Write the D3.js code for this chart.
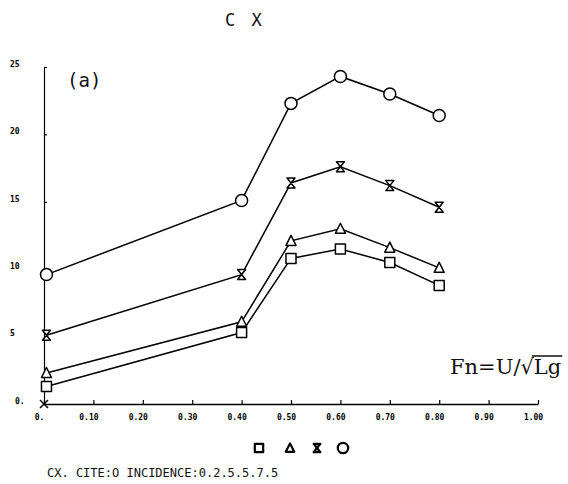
<!DOCTYPE html>
<html>
<head>
<meta charset="utf-8">
<script src="https://cdn.jsdelivr.net/npm/d3@7"></script>
<style>
  body{margin:0;background:#fff;}
  svg{display:block;}
</style>
</head>
<body>
<svg id="chart" width="568" height="484"></svg>
<script>
// Froude number points (x) and CX values per incidence
const fn = [0.005, 0.40, 0.50, 0.60, 0.70, 0.80];
const cxSquare = [1.3, 5.3, 10.8, 11.5, 10.5, 8.8];
const cxTriangle = [2.3, 6.1, 12.1, 13.0, 11.6, 10.1];
const cxHourglass = [5.1, 9.6, 16.4, 17.6, 16.2, 14.6];
const cxCircle = [9.6, 15.1, 22.3, 24.3, 23.0, 21.4];
const xTicks = [0, 0.1, 0.2, 0.3, 0.4, 0.5, 0.6, 0.7, 0.8, 0.9, 1.0];
const xTickLabels = ["0.", "0.10", "0.20", "0.30", "0.40", "0.50", "0.60", "0.70", "0.80", "0.90", "1.00"];
const yTicks = [0, 5, 10, 15, 20, 25];
const yTickLabels = ["0.", "5", "10", "15", "20", "25"];

const series = [
  {name: "square", values: cxSquare},
  {name: "triangle", values: cxTriangle},
  {name: "hourglass", values: cxHourglass},
  {name: "circle", values: cxCircle}
];

const svg = d3.select("#chart");
const xscale = d3.scaleLinear().domain([0, 1]).range([44, 538]);
const yscale = d3.scaleLinear().domain([0, 25]).range([404, 67]);

const mono = "'DejaVu Sans Mono', monospace";

// marker paths centred on 0,0
function marker(name, s) {
  if (name === "square") return `M${-s},${-s}H${s}V${s}H${-s}Z`;
  if (name === "triangle") return `M0,${-s*1.1}L${s},${s*0.9}H${-s}Z`;
  if (name === "hourglass") return `M${-s*0.8},${-s}H${s*0.8}L${-s*0.8},${s}H${s*0.8}Z`;
  return null;
}
function drawMarker(g, name, x, y, s, sw) {
  if (name === "circle") {
    g.append("circle").attr("cx", x).attr("cy", y).attr("r", s + 1)
      .attr("fill", "#fff").attr("stroke", "#000").attr("stroke-width", sw);
  } else {
    g.append("path").attr("d", marker(name, s))
      .attr("transform", `translate(${x},${y})`)
      .attr("fill", "#fff").attr("stroke", "#000").attr("stroke-width", sw)
      .attr("stroke-linejoin", "round");
  }
}

// axes
const xaxis = d3.axisBottom(xscale).tickValues(xTicks).tickSizeInner(-4).tickSizeOuter(0)
  .tickFormat((d, i) => xTickLabels[i]);
const gx = svg.append("g").attr("transform", "translate(0,404)").call(xaxis);
gx.select(".domain").attr("stroke-width", 1.6);
gx.selectAll(".tick line").attr("stroke-width", 1.2);
gx.selectAll(".tick text").attr("y", 10).attr("dx", -5)
  .attr("font-family", mono).attr("font-size", 8).attr("font-weight", "bold");

const yaxis = d3.axisLeft(yscale).tickValues(yTicks).tickSizeInner(-3).tickSizeOuter(0)
  .tickFormat((d, i) => yTickLabels[i]);
const gy = svg.append("g").attr("transform", "translate(44,0)").call(yaxis);
gy.select(".domain").attr("stroke-width", 1.2);
gy.selectAll(".tick line").attr("stroke-width", 1.1);
gy.selectAll(".tick text").attr("x", -34).attr("dy", "-0.1em").attr("text-anchor", "start")
  .attr("font-family", mono).attr("font-size", 8).attr("font-weight", "bold");
gy.selectAll(".tick").filter(d => d === 0).select("text").attr("x", -29);

// cross at origin
svg.append("path").attr("d", "M-4,-4L4,4M-4,4L4,-4")
  .attr("transform", `translate(${xscale(0)},${yscale(0)})`)
  .attr("stroke", "#000").attr("stroke-width", 1.5);

// curves
const line = d3.line().x((d, i) => xscale(fn[i])).y(d => yscale(d));
series.forEach(s => {
  svg.append("path").datum(s.values).attr("d", line)
    .attr("fill", "none").attr("stroke", "#000").attr("stroke-width", 1.5);
});
series.forEach(s => {
  const g = svg.append("g");
  s.values.forEach((v, i) => drawMarker(g, s.name, xscale(fn[i]), yscale(v), 5, 1.5));
});

// texts
svg.append("text").attr("x", 225).attr("y", 26).text("C X")
  .attr("font-family", mono).attr("font-size", 17).attr("letter-spacing", 3).attr("fill", "#111");
svg.append("text").attr("x", 67).attr("y", 87).text("(a)")
  .attr("font-family", mono).attr("font-size", 19).attr("fill", "#111");

// Fn label, overline drawn over "Lg"
const fnLabel = svg.append("text").attr("x", 450).attr("y", 374)
  .attr("font-family", "'DejaVu Serif', serif").attr("font-size", 21).attr("fill", "#111");
const t1 = fnLabel.append("tspan").text("Fn=U/√");
const t2 = fnLabel.append("tspan").text("Lg");
const w1 = t1.node().getComputedTextLength();
const w2 = t2.node().getComputedTextLength();
svg.append("line").attr("x1", 450 + w1 - 2).attr("x2", 450 + w1 + w2 + 1)
  .attr("y1", 356).attr("y2", 356).attr("stroke", "#111").attr("stroke-width", 1.5);

// legend row
const legendNames = ["square", "triangle", "hourglass", "circle"];
const legendX = [259, 290, 317, 343];
const lg = svg.append("g");
legendNames.forEach((n, i) => drawMarker(lg, n, legendX[i], 448, 4.2, 2.2));

svg.append("text").attr("x", 47).attr("y", 477).text("CX. CITE:O INCIDENCE:0.2.5.5.7.5")
  .attr("font-family", mono).attr("font-size", 12).attr("fill", "#111");
</script>
</body>
</html>
